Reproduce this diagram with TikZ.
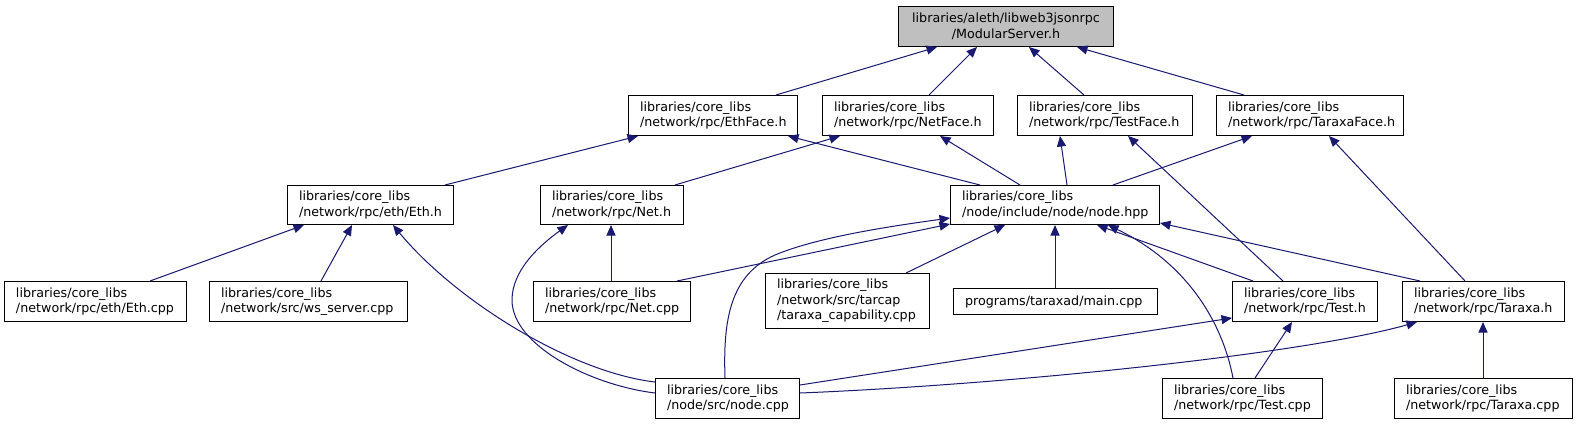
\documentclass[tikz,border=0pt]{standalone}
\usepackage{fontspec}
\setmainfont{DejaVu Sans}
\usetikzlibrary{arrows.meta,calc}
\definecolor{navyc}{RGB}{25,25,112}
\definecolor{rootgray}{RGB}{191,191,191}
\newcommand\mybox[7][]{%
  \pgfmathsetmacro\bw{#5-#3-23}%
  \pgfmathsetmacro\bh{#6-#4}%
  \node[box,#1,text width=\bw pt,minimum height=\bh pt] (#2) at (#3,#4) {#7};}
\begin{document}
\begin{tikzpicture}[x=1pt,y=-1pt,
  box/.style={draw=black,line width=1pt,rectangle,inner xsep=11.5pt,inner ysep=0pt,
    align=left,anchor=north west,
    font={\fontsize{12.7}{15.5}\selectfont\hyphenpenalty=10000\exhyphenpenalty=10000}},
  conn/.style={draw=navyc,line width=1pt,-{Triangle[length=10.5pt,width=9pt]}}]
\fill[white] (0,0) rectangle (1577,424);
\useasboundingbox (0,0) rectangle (1577,424);
% row 0
\mybox[fill=rootgray,align=center]{ms}{898}{6}{1113}{46}{libraries/aleth/libweb3jsonrpc\\/ModularServer.h}
% row 1
\mybox{ethface}{628}{95}{797}{135}{libraries/core\_libs\\/network/rpc/EthFace.h}
\mybox{netface}{822}{95}{993}{135}{libraries/core\_libs\\/network/rpc/NetFace.h}
\mybox{testface}{1017}{95}{1192}{135}{libraries/core\_libs\\/network/rpc/TestFace.h}
\mybox{taraxaface}{1216}{95}{1403}{135}{libraries/core\_libs\\/network/rpc/TaraxaFace.h}
% row 2
\mybox{ethh}{287}{185}{453}{224}{libraries/core\_libs\\/network/rpc/eth/Eth.h}
\mybox{neth}{540}{185}{683}{224}{libraries/core\_libs\\/network/rpc/Net.h}
\mybox{nodehpp}{950}{185}{1159}{224}{libraries/core\_libs\\/node/include/node/node.hpp}
% row 3
\mybox{ethcpp}{4}{281}{186}{321}{libraries/core\_libs\\/network/rpc/eth/Eth.cpp}
\mybox{wss}{209}{281}{407}{321}{libraries/core\_libs\\/network/src/ws\_server.cpp}
\mybox{netcpp}{533}{281}{690}{321}{libraries/core\_libs\\/network/rpc/Net.cpp}
\mybox{tarcap}{765}{273}{929}{328}{libraries/core\_libs\\/network/src/tarcap\\/taraxa\_capability.cpp}
\mybox{maincpp}{953}{288}{1157}{314}{programs/taraxad/main.cpp}
\mybox{testh}{1232}{281}{1377}{321}{libraries/core\_libs\\/network/rpc/Test.h}
\mybox{taraxah}{1402}{281}{1564}{321}{libraries/core\_libs\\/network/rpc/Taraxa.h}
% row 4
\mybox{nodecpp}{655}{378}{799}{418}{libraries/core\_libs\\/node/src/node.cpp}
\mybox{testcpp}{1162}{378}{1322}{418}{libraries/core\_libs\\/network/rpc/Test.cpp}
\mybox{taraxacpp}{1394}{378}{1572}{418}{libraries/core\_libs\\/network/rpc/Taraxa.cpp}
% connectors
\draw[conn] ([xshift=148pt]ethface.north west) -- ([xshift=39pt]ms.south west);
\draw[conn] ([xshift=107pt]netface.north west) -- ([xshift=79pt]ms.south west);
\draw[conn] ([xshift=67pt]testface.north west) -- ([xshift=131pt]ms.south west);
\draw[conn] ([xshift=28pt]taraxaface.north west) -- ([xshift=179pt]ms.south west);
\draw[conn] ([xshift=158pt]ethh.north west) -- ([xshift=10pt]ethface.south west);
\draw[conn] ([xshift=30pt]nodehpp.north west) -- ([xshift=160pt]ethface.south west);
\draw[conn] ([xshift=135pt]neth.north west) -- ([xshift=18pt]netface.south west);
\draw[conn] ([xshift=70pt]nodehpp.north west) -- ([xshift=118pt]netface.south west);
\draw[conn] ([xshift=117pt]nodehpp.north west) -- ([xshift=43pt]testface.south west);
\draw[conn] ([xshift=51pt]testh.north west) -- ([xshift=111pt]testface.south west);
\draw[conn] ([xshift=163pt]nodehpp.north west) -- ([xshift=36pt]taraxaface.south west);
\draw[conn] ([xshift=63pt]taraxah.north west) -- ([xshift=113pt]taraxaface.south west);
\draw[conn] ([xshift=146pt]ethcpp.north west) -- ([xshift=17pt]ethh.south west);
\draw[conn] ([xshift=112pt]wss.north west) -- ([xshift=65pt]ethh.south west);
\draw[conn] ([yshift=-4pt]nodecpp.north west) .. controls (570,372) and (455,300) .. ([xshift=106pt]ethh.south west);
\draw[conn] ([xshift=78pt]netcpp.north west) -- ([xshift=71pt]neth.south west);
\draw[conn] ([yshift=-15pt]nodecpp.north west) .. controls (590,385) and (512,345) .. (512,300) .. controls (512,270) and (540,245) .. ([xshift=28pt]neth.south west);
\draw[conn] ([xshift=144pt]netcpp.north west) -- ([yshift=1pt]nodehpp.south west);
\draw[conn] ([xshift=70pt]nodecpp.north west) .. controls (723,320) and (730,275) .. (775,255) .. controls (820,236) and (900,225) .. ([yshift=7pt]nodehpp.south west);
\draw[conn] ([xshift=141pt]tarcap.north west) -- ([xshift=55pt]nodehpp.south west);
\draw[conn] ([xshift=102pt]maincpp.north west) -- ([xshift=105pt]nodehpp.south west);
\draw[conn] ([xshift=21pt]testh.north west) -- ([xshift=147pt]nodehpp.south west);
\draw[conn] ([xshift=71pt]testcpp.north west) .. controls (1222,320) and (1185,262) .. ([xshift=158pt]nodehpp.south west);
\draw[conn] ([xshift=18pt]taraxah.north west) -- ([yshift=2pt]nodehpp.south east);
\draw[conn] ([yshift=-7pt]nodecpp.north east) -- ([yshift=4pt]testh.south west);
\draw[conn] ([xshift=93pt]testcpp.north west) -- ([xshift=60pt]testh.south west);
\draw[conn] ([yshift=-15pt]nodecpp.north east) .. controls (1000,385) and (1300,355) .. ([xshift=15pt]taraxah.south west);
\draw[conn] ([xshift=89pt]taraxacpp.north west) -- ([xshift=81pt]taraxah.south west);
\end{tikzpicture}
\end{document}
